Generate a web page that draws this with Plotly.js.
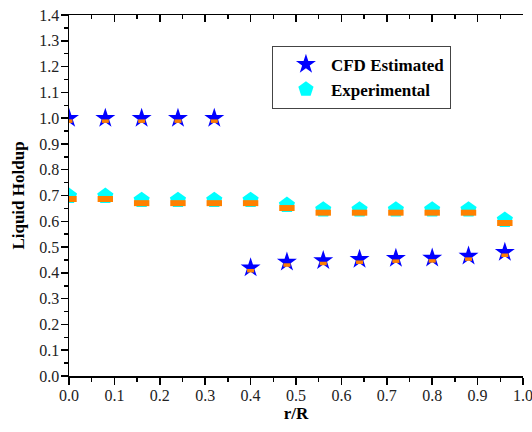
<!DOCTYPE html>
<html>
<head>
<meta charset="utf-8">
<script src="https://cdn.plot.ly/plotly-3.0.1.min.js"></script>
<style>html,body{margin:0;padding:0;background:#fff;}#plot{width:532px;height:432px;}</style>
</head>
<body>
<div id="plot"></div>
<script>
// r/R positions
const rR = [0.00, 0.08, 0.16, 0.24, 0.32, 0.40, 0.48, 0.56, 0.64, 0.72, 0.80, 0.88, 0.96];
// CFD estimated liquid holdup
const cfdHoldup = [1.00, 1.00, 1.00, 1.00, 1.00, 0.42, 0.442, 0.448, 0.453, 0.457, 0.458, 0.465, 0.48];
// Experimental liquid holdup
const expHoldup = [0.698, 0.698, 0.682, 0.682, 0.682, 0.682, 0.663, 0.645, 0.645, 0.645, 0.645, 0.645, 0.605];
const seriesNames = ['CFD Estimated', 'Experimental'];

const serif = 'Liberation Serif';
const pxPerUnit = 361 / 1.4;
const shift = 3 / pxPerUnit;

const traces = [
  {x: rR, y: expHoldup, type: 'scatter', mode: 'markers', name: seriesNames[1],
   marker: {symbol: 'pentagon', size: 17, color: '#00ffff', line: {width: 0}}, legendrank: 2},
  {x: rR, y: expHoldup, type: 'scatter', mode: 'markers', showlegend: false, hoverinfo: 'skip',
   xaxis: 'x2', yaxis: 'y3',
   marker: {symbol: 'line-ew', size: 11, line: {width: 6, color: '#ff8000'}}},
  {x: rR, y: cfdHoldup, type: 'scatter', mode: 'markers', name: seriesNames[0],
   marker: {symbol: 'star', size: 15, color: '#0000ff', line: {width: 0}}, legendrank: 1},
  {x: rR, y: cfdHoldup, type: 'scatter', mode: 'markers', showlegend: false, hoverinfo: 'skip',
   xaxis: 'x2', yaxis: 'y3',
   marker: {symbol: 'line-ew', size: 5, line: {width: 3.5, color: '#ff8000'}}}
];

const axisCommon = {showline: true, linecolor: '#000', linewidth: 1.5, showgrid: false, zeroline: false,
  tickcolor: '#000', tickwidth: 1.5, ticklabeloverflow: 'allow',
  tickfont: {family: serif, size: 16, color: '#222'}};

const layout = {
  width: 532, height: 432,
  margin: {l: 69, r: 9, t: 15, b: 56},
  paper_bgcolor: '#fff', plot_bgcolor: '#fff',
  showlegend: true,
  legend: {x: 0.447, y: 0.915, xanchor: 'left', yanchor: 'top', bgcolor: '#fff',
    bordercolor: '#444', borderwidth: 1, traceorder: 'normal', indentation: 8,
    font: {family: serif, size: 17, color: '#000', weight: 'bold'}, itemwidth: 40},
  xaxis: Object.assign({}, axisCommon, {range: [0, 1.0], dtick: 0.1, tick0: 0, tickformat: '.1f',
    ticks: 'outside', ticklen: 7, ticklabelstandoff: -3,
    minor: {dtick: 0.05, ticks: 'outside', ticklen: 4, tickcolor: '#000', tickwidth: 1.5},
    title: {text: '<b>r/R</b>', font: {family: serif, size: 17, color: '#000'}, standoff: 4}}),
  xaxis2: Object.assign({}, axisCommon, {overlaying: 'x', side: 'top', range: [0, 1.0], dtick: 0.1, tick0: 0,
    ticks: 'inside', ticklen: 7, showticklabels: false,
    minor: {dtick: 0.05, ticks: 'inside', ticklen: 4, tickcolor: '#000', tickwidth: 1.5}}),
  yaxis: Object.assign({}, axisCommon, {range: [0, 1.4], dtick: 0.1, tick0: 0, tickformat: '.1f',
    ticks: 'outside', ticklen: 7, ticklabelstandoff: -2,
    minor: {dtick: 0.05, ticks: 'outside', ticklen: 4, tickcolor: '#000', tickwidth: 1.5},
    title: {text: '<b>Liquid Holdup</b>', font: {family: serif, size: 17, color: '#000'}, standoff: 10}}),
  yaxis2: Object.assign({}, axisCommon, {overlaying: 'y', side: 'right', range: [0, 1.4], dtick: 0.1, tick0: 0,
    ticks: 'inside', ticklen: 7, showticklabels: false,
    minor: {dtick: 0.05, ticks: 'inside', ticklen: 4, tickcolor: '#000', tickwidth: 1.5}}),
  yaxis3: {overlaying: 'y', range: [shift, 1.4 + shift], visible: false, showgrid: false, zeroline: false}
};

Plotly.newPlot('plot', traces, layout, {displayModeBar: false, staticPlot: true});
</script>
</body>
</html>
